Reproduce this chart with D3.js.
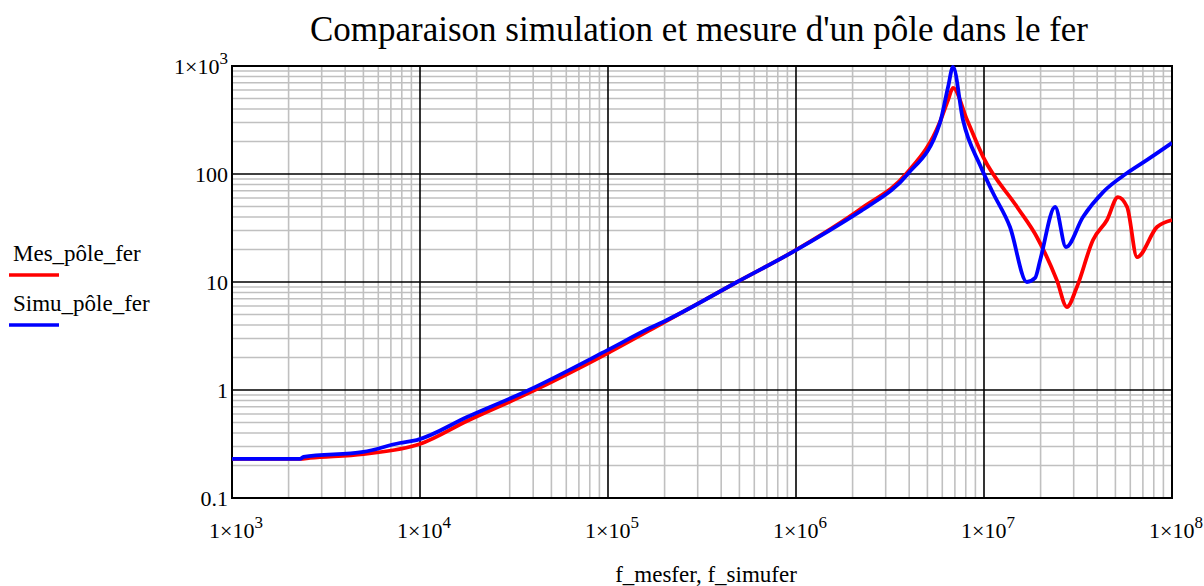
<!DOCTYPE html>
<html><head><meta charset="utf-8">
<script src="https://cdn.jsdelivr.net/npm/d3@7"></script>
<style>
body{margin:0;background:#fff;}
text{font-family:"Liberation Serif","Times New Roman",serif;fill:#000;}
</style></head>
<body><svg id="c" width="1204" height="586"></svg>
<script>
const title = "Comparaison simulation et mesure d'un pôle dans le fer";
const xAxisTitle = "f_mesfer, f_simufer";
const seriesNames = ["Mes_pôle_fer", "Simu_pôle_fer"];
const seriesColors = ["#ff0000", "#0000ff"];
const xTickExps = [3, 4, 5, 6, 7, 8];
const yTickValues = [0.1, 1, 10, 100, 1000];
const yTickLabels = ["0.1", "1", "10", "100", "1×10^3"];

// Measured (Mes_pôle_fer)
const fMes = [1000, 2300, 2600, 5000, 10000, 17800, 38000, 100000, 200000, 486000, 960000, 2240000, 3890000, 5830000, 6440000, 6840000, 8130000, 9890000, 15000000, 19100000, 24400000, 27600000, 31200000, 38000000, 45100000, 51600000, 57700000, 65200000, 83200000, 100000000];
const mes = [0.23, 0.23, 0.235, 0.255, 0.316, 0.516, 0.94, 2.2, 4.26, 10, 19, 48.4, 102, 303, 484, 626, 316, 144, 49.5, 26.1, 10.4, 5.87, 9.0, 24.5, 37.5, 61.2, 49.5, 17.0, 32.3, 37.5];

// Simulated (Simu_pôle_fer)
const fSimu = [1000, 2300, 2400, 5000, 7800, 9600, 17800, 38000, 100000, 167000, 206000, 486000, 963000, 2240000, 2480000, 3890000, 5830000, 6440000, 6840000, 7730000, 9520000, 11170000, 13750000, 16900000, 18700000, 19900000, 23900000, 27300000, 33600000, 43000000, 57700000, 73700000, 100000000];
const simu = [0.23, 0.23, 0.24, 0.267, 0.323, 0.344, 0.562, 1.0, 2.35, 3.75, 4.45, 10, 19, 46, 51.6, 98, 297, 639, 979, 316, 121, 66.7, 32.3, 10, 10.9, 16, 49.5, 21.1, 40, 68, 102, 135, 194];

const svg = d3.select("#c");
const L = 232, R = 1172, T = 66, B = 498;
const x = d3.scaleLog().domain([1e3, 1e8]).range([L, R]);
const y = d3.scaleLog().domain([0.1, 1000]).range([B, T]);

// minor grid
const g = svg.append("g");
const minorX = [], minorY = [];
for (let e = 3; e < 8; e++) for (let k = 2; k <= 9; k++) minorX.push(k * Math.pow(10, e));
for (let e = -1; e < 3; e++) for (let k = 2; k <= 9; k++) minorY.push(k * Math.pow(10, e));
g.selectAll(".mx").data(minorX).join("line")
  .attr("x1", d => x(d)).attr("x2", d => x(d)).attr("y1", T).attr("y2", B)
  .attr("stroke", "#c0c0c0").attr("stroke-width", 1.6);
g.selectAll(".my").data(minorY).join("line")
  .attr("y1", d => y(d)).attr("y2", d => y(d)).attr("x1", L).attr("x2", R)
  .attr("stroke", "#c0c0c0").attr("stroke-width", 1.6);
// major grid
g.selectAll(".Mx").data(xTickExps.map(e => Math.pow(10, e))).join("line")
  .attr("x1", d => x(d)).attr("x2", d => x(d)).attr("y1", T).attr("y2", B)
  .attr("stroke", "#000").attr("stroke-width", 1.6);
g.selectAll(".My").data(yTickValues).join("line")
  .attr("y1", d => y(d)).attr("y2", d => y(d)).attr("x1", L).attr("x2", R)
  .attr("stroke", "#000").attr("stroke-width", 1.6);
svg.append("rect").attr("x", L).attr("y", T).attr("width", R - L).attr("height", B - T)
  .attr("fill", "none").attr("stroke", "#000").attr("stroke-width", 2);

// lines
const line = d3.line().x(d => x(d[0])).y(d => y(d[1])).curve(d3.curveMonotoneX);
const clip = svg.append("clipPath").attr("id", "clp").append("rect")
  .attr("x", L).attr("y", T - 2).attr("width", R - L).attr("height", B - T + 4);
const series = [d3.zip(fMes, mes), d3.zip(fSimu, simu)];
series.forEach((s, i) => {
  svg.append("path").datum(s).attr("d", line).attr("fill", "none")
    .attr("stroke", seriesColors[i]).attr("stroke-width", 3.8)
    .attr("stroke-linejoin", "round").attr("clip-path", "url(#clp)");
});

// y tick labels
yTickLabels.forEach((lab, i) => {
  const t = svg.append("text").attr("x", 228).attr("y", y(yTickValues[i]) + 8)
    .attr("text-anchor", "end").attr("font-size", 22);
  if (lab.includes("^")) {
    const [a, b] = lab.split("^");
    t.append("tspan").text(a);
    t.append("tspan").attr("dy", -10).attr("font-size", 17).text(b);
  } else t.text(lab);
});
// x tick labels
xTickExps.forEach(e => {
  const t = svg.append("text").attr("x", x(Math.pow(10, e)) + 4).attr("y", 538)
    .attr("text-anchor", "middle").attr("font-size", 22);
  t.append("tspan").text("1×10");
  t.append("tspan").attr("dy", -10).attr("font-size", 17).text(String(e));
});

// title
svg.append("text").attr("x", 699).attr("y", 41).attr("text-anchor", "middle")
  .attr("font-size", 35).text(title);
// x axis title
svg.append("text").attr("x", 706).attr("y", 582).attr("text-anchor", "middle")
  .attr("font-size", 23).text(xAxisTitle);

// legend
seriesNames.forEach((n, i) => {
  const by = 261 + i * 50;
  svg.append("text").attr("x", 13).attr("y", by).attr("font-size", 23).text(n);
  svg.append("line").attr("x1", 9).attr("x2", 59).attr("y1", by + 14).attr("y2", by + 14)
    .attr("stroke", seriesColors[i]).attr("stroke-width", 3.5);
});
</script></body></html>
